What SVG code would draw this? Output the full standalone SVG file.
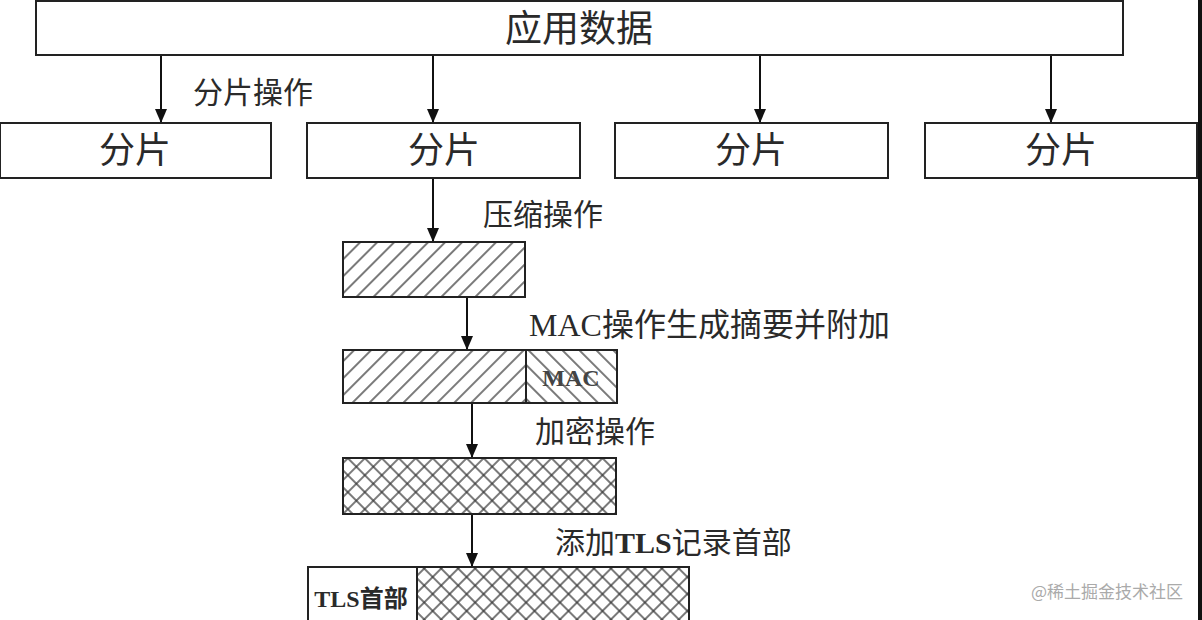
<svg xmlns="http://www.w3.org/2000/svg" width="1202" height="620" viewBox="0 0 1202 620">
<style>
.box{fill:#fff;stroke:#222;stroke-width:2}
.t{font-family:"Liberation Serif","Noto Sans CJK SC",serif;fill:#2a2a2a}
.big{font-size:36px;text-anchor:middle}
.lbl{font-size:30px}
.conn{stroke:#111;stroke-width:2;fill:none}
.h{stroke:#333;stroke-width:1.3}
</style>
<defs>
<marker id="ah" viewBox="0 0 14 12" refX="14" refY="6" markerWidth="14" markerHeight="12" markerUnits="userSpaceOnUse" orient="auto">
<path d="M0,0 L14,6 L0,12 Z" fill="#111"/>
</marker>
<pattern id="fwd" width="12" height="12" patternUnits="userSpaceOnUse" patternTransform="rotate(45)">
<rect width="12" height="12" fill="#fff"/>
<line x1="6" y1="0" x2="6" y2="12" class="h"/>
</pattern>
<pattern id="back" width="12" height="12" patternUnits="userSpaceOnUse" patternTransform="rotate(-45)">
<rect width="12" height="12" fill="#fff"/>
<line x1="6" y1="0" x2="6" y2="12" class="h"/>
</pattern>
<pattern id="cross" width="12" height="12" patternUnits="userSpaceOnUse" patternTransform="rotate(45)">
<rect width="12" height="12" fill="#fff"/>
<line x1="6" y1="0" x2="6" y2="12" class="h"/>
<line x1="0" y1="6" x2="12" y2="6" class="h"/>
</pattern>
</defs>
<rect width="1202" height="620" fill="#fff"/>
<rect x="1198" y="0" width="4" height="620" fill="#111"/>

<g id="connectors">
<line class="conn" x1="161" y1="55" x2="161" y2="123" marker-end="url(#ah)"/>
<line class="conn" x1="433" y1="55" x2="433" y2="123" marker-end="url(#ah)"/>
<line class="conn" x1="760" y1="55" x2="760" y2="123" marker-end="url(#ah)"/>
<line class="conn" x1="1051" y1="55" x2="1051" y2="123" marker-end="url(#ah)"/>
<line class="conn" x1="433" y1="178" x2="433" y2="242" marker-end="url(#ah)"/>
<line class="conn" x1="467" y1="297" x2="467" y2="350" marker-end="url(#ah)"/>
<line class="conn" x1="472" y1="403" x2="472" y2="458" marker-end="url(#ah)"/>
<line class="conn" x1="472" y1="514" x2="472" y2="567" marker-end="url(#ah)"/>
</g>

<g id="app-data">
<rect class="box" x="36" y="1" width="1087" height="54"/>
<text class="t big" x="579" y="42" style="font-size:37px">应用数据</text>
</g>
<g id="frag1">
<rect class="box" x="0" y="123" width="271" height="55"/>
<text class="t big" x="135" y="163">分片</text>
</g>
<g id="frag2">
<rect class="box" x="307" y="123" width="273" height="55"/>
<text class="t big" x="444" y="163">分片</text>
</g>
<g id="frag3">
<rect class="box" x="615" y="123" width="273" height="55"/>
<text class="t big" x="751" y="163">分片</text>
</g>
<g id="frag4">
<rect class="box" x="925" y="123" width="272" height="55"/>
<text class="t big" x="1061" y="163">分片</text>
</g>

<g id="labels">
<text class="t lbl" x="193" y="103">分片操作</text>
<text class="t lbl" x="483" y="225">压缩操作</text>
<text class="t lbl" x="529" y="336" style="font-size:32px">MAC操作生成摘要并附加</text>
<text class="t lbl" x="535" y="442">加密操作</text>
<text class="t lbl" x="555" y="553"><tspan>添加</tspan><tspan font-weight="bold">TLS</tspan><tspan>记录首部</tspan></text>
</g>

<g id="compressed">
<rect class="box" x="343" y="242" width="182" height="55" style="fill:url(#fwd)"/>
</g>
<g id="mac-appended">
<rect class="box" x="343" y="350" width="183" height="53" style="fill:url(#fwd)"/>
<rect class="box" x="526" y="350" width="91" height="53" style="fill:url(#back)"/>
<text class="t" x="571" y="386" font-size="24" font-weight="bold" text-anchor="middle" style="fill:#444">MAC</text>
</g>
<g id="encrypted">
<rect class="box" x="343" y="458" width="273" height="56" style="fill:url(#cross)"/>
</g>
<g id="tls-record">
<rect class="box" x="308" y="567" width="109" height="60"/>
<rect class="box" x="417" y="567" width="272" height="60" style="fill:url(#cross)"/>
<text class="t" x="361" y="607" font-size="24" font-weight="bold" text-anchor="middle">TLS首部</text>
</g>

<text x="1183" y="598" font-family="'Noto Sans CJK SC',sans-serif" font-size="17" fill="#aaa" text-anchor="end">@稀土掘金技术社区</text>
</svg>
